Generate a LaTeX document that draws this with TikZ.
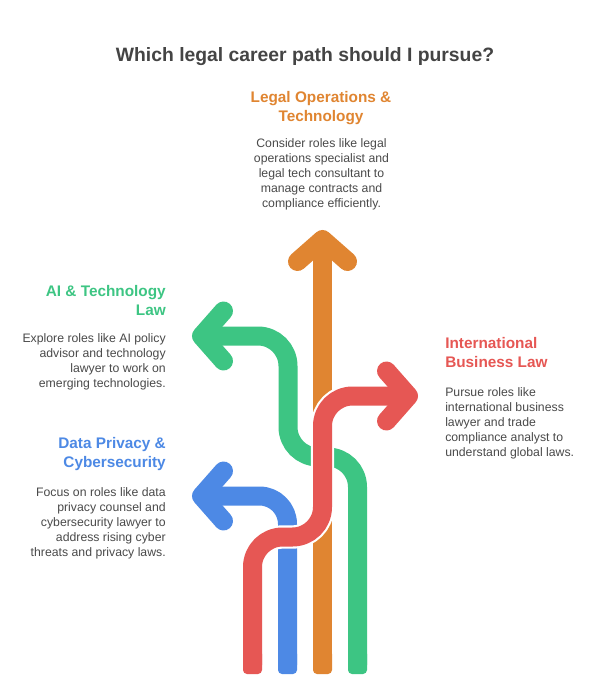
\documentclass[tikz,border=0pt]{standalone}
\usepackage{fontspec}
\setmainfont{Liberation Sans}
\usetikzlibrary{calc}
\definecolor{cOrange}{HTML}{E08531}
\definecolor{cGreen}{HTML}{3DC583}
\definecolor{cRed}{HTML}{E65754}
\definecolor{cBlue}{HTML}{4D89E5}
\definecolor{cTitle}{HTML}{444444}
\definecolor{cBody}{HTML}{4A4A4A}
\begin{document}
\begin{tikzpicture}[x=0.75pt,y=-0.75pt,
  lane/.style={line width=14.25pt, line cap=butt, line join=round},
  tipstroke/.style={line width=14.25pt, line cap=round, line join=round},
  halo/.style={line width=17.5pt, white, line cap=butt, line join=round},
  ttl/.style={font=\bfseries\fontsize{14.5}{17}\selectfont, text=cTitle, inner sep=0},
  hd/.style={font=\bfseries\fontsize{11.5}{14.25}\selectfont, inner sep=0},
  bd/.style={font=\fontsize{9.2}{11.25}\selectfont, text=cBody, inner sep=0},
]
\useasboundingbox[fill=white] (0,0) rectangle (593,699);

% coordinates
\coordinate (oTip) at (322.5,239.5);
\coordinate (gTip) at (201.5,336);
\coordinate (bTip) at (201.5,496);
\coordinate (rTip) at (408.5,396);

% green
\draw[lane, cGreen, rounded corners=22.5pt] (gTip) -- (288,336) -- (288,457) -- (357.5,457) -- (357.5,665);
\fill[cGreen, rounded corners=3pt] (348,650) rectangle (367,674);
\draw[tipstroke, cGreen] ($(gTip)+(22,-25)$) -- (gTip) -- ($(gTip)+(22,25)$);

% blue
\draw[lane, cBlue, rounded corners=21pt] (bTip) -- (287.5,496) -- (287.5,665);
\fill[cBlue, rounded corners=3pt] (278,650) rectangle (297,674);
\draw[tipstroke, cBlue] ($(bTip)+(22,-25)$) -- (bTip) -- ($(bTip)+(22,25)$);

% orange
\draw[lane, cOrange] (322.5,665) -- (oTip);
\fill[cOrange, rounded corners=3pt] (313,650) rectangle (332,674);
\draw[tipstroke, cOrange] ($(oTip)+(-25,22)$) -- (oTip) -- ($(oTip)+(25,22)$);

% red with white halo
\draw[halo, rounded corners=22.5pt] (252.5,660) -- (252.5,537) -- (322.5,537) -- (322.5,396) -- (395,396);
\draw[lane, cRed, rounded corners=22.5pt] (252.5,665) -- (252.5,537) -- (322.5,537) -- (322.5,396) -- (rTip);
\fill[cRed, rounded corners=3pt] (243,650) rectangle (262,674);
\draw[tipstroke, cRed] ($(rTip)+(-22,-25)$) -- (rTip) -- ($(rTip)+(-22,25)$);

% texts
\node[ttl, anchor=north] (title) at (305,47.5) {Which legal career path should I pursue?};

\node[hd, text=cOrange, anchor=north, align=center] (oHead) at (321,91.5) {Legal Operations \&\\Technology};
\node[bd, anchor=north, align=center] (oBody) at (321.5,138.5) {Consider roles like legal\\operations specialist and\\legal tech consultant to\\manage contracts and\\compliance efficiently.};

\node[hd, text=cGreen, anchor=north east, align=right] (gHead) at (166,285.5) {AI \& Technology\\Law};
\node[bd, anchor=north east, align=right] (gBody) at (166,333.5) {Explore roles like AI policy\\advisor and technology\\lawyer to work on\\emerging technologies.};

\node[hd, text=cBlue, anchor=north east, align=right] (bHead) at (166,437.5) {Data Privacy \&\\Cybersecurity};
\node[bd, anchor=north east, align=right] (bBody) at (166,487.5) {Focus on roles like data\\privacy counsel and\\cybersecurity lawyer to\\address rising cyber\\threats and privacy laws.};

\node[hd, text=cRed, anchor=north west, align=left] (rHead) at (445,337.5) {International\\Business Law};
\node[bd, anchor=north west, align=left] (rBody) at (445,387.5) {Pursue roles like\\international business\\lawyer and trade\\compliance analyst to\\understand global laws.};
\end{tikzpicture}
\end{document}
